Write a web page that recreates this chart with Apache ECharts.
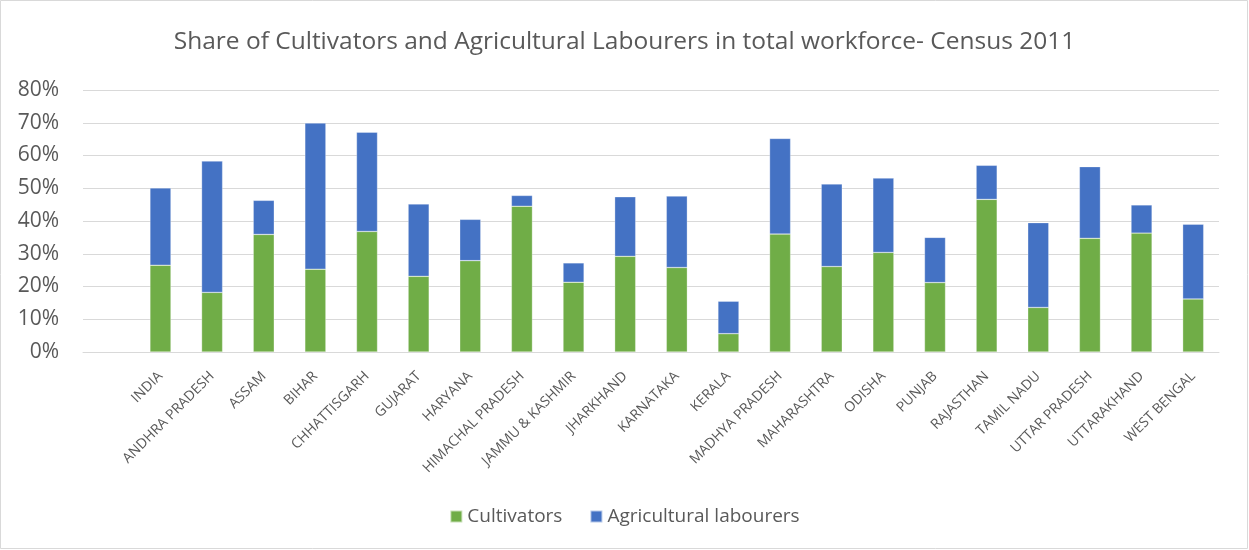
<!DOCTYPE html>
<html>
<head>
<meta charset="utf-8">
<script src="https://cdn.jsdelivr.net/npm/echarts@6/dist/echarts.min.js"></script>
<style>
  html, body { margin: 0; padding: 0; background: #fff; }
  #chart { width: 1249px; height: 550px; }
</style>
</head>
<body>
<div id="chart"></div>
<script>
// Census 2011: share of workforce (%) by state. The leading blank row keeps an empty slot before INDIA.
const states = ['', 'INDIA', 'ANDHRA PRADESH', 'ASSAM', 'BIHAR', 'CHHATTISGARH', 'GUJARAT', 'HARYANA',
  'HIMACHAL PRADESH', 'JAMMU & KASHMIR', 'JHARKHAND', 'KARNATAKA', 'KERALA', 'MADHYA PRADESH',
  'MAHARASHTRA', 'ODISHA', 'PUNJAB', 'RAJASTHAN', 'TAMIL NADU', 'UTTAR PRADESH', 'UTTARAKHAND', 'WEST BENGAL'];
const cultivators = [null, 26.5, 18.2, 35.9, 25.3, 36.8, 23.1, 27.9, 44.5, 21.3, 29.2, 25.8, 5.6, 36.0,
  26.1, 30.4, 21.2, 46.6, 13.6, 34.7, 36.3, 16.2];
const agriLabourers = [null, 23.6, 40.1, 10.4, 44.6, 30.3, 22.1, 12.6, 3.3, 5.9, 18.2, 21.8, 9.9, 29.2,
  25.2, 22.7, 13.8, 10.4, 25.9, 21.9, 8.6, 22.8];
const yTicks = { min: 0, max: 80, step: 10 };

const font = '"Open Sans", "Noto Sans", sans-serif';
const chart = echarts.init(document.getElementById('chart'), null, { renderer: 'canvas' });
chart.setOption({
  animation: false,
  backgroundColor: '#fff',
  title: {
    text: 'Share of Cultivators and Agricultural Labourers in total workforce- Census 2011',
    left: 'center',
    top: 25,
    textStyle: { fontFamily: font, fontSize: 24.5, fontWeight: 'normal', color: '#595959' }
  },
  legend: {
    left: 'center',
    top: 502,
    itemWidth: 12,
    itemHeight: 12,
    itemGap: 27,
    icon: 'rect',
    textStyle: { fontFamily: font, fontSize: 19, color: '#595959' },
    data: ['Cultivators', 'Agricultural labourers']
  },
  grid: { left: 83, right: 30, top: 90, bottom: 198 },
  xAxis: {
    type: 'category',
    data: states,
    axisLine: { lineStyle: { color: '#d9d9d9', width: 1 } },
    axisTick: { show: false },
    axisLabel: {
      interval: 0,
      rotate: 45,
      margin: 22,
      fontFamily: font,
      fontSize: 14,
      color: '#595959'
    }
  },
  yAxis: {
    type: 'value',
    min: yTicks.min,
    max: yTicks.max,
    interval: yTicks.step,
    axisLine: { show: false },
    axisTick: { show: false },
    splitLine: { lineStyle: { color: '#d9d9d9', width: 1 } },
    axisLabel: {
      formatter: '{value}%',
      margin: 24,
      fontFamily: font,
      fontSize: 21,
      color: '#595959'
    }
  },
  series: [
    {
      name: 'Cultivators',
      type: 'bar',
      stack: 'workforce',
      barWidth: 21,
      data: cultivators,
      itemStyle: { color: '#70AD47', borderColor: 'rgba(255,255,255,0.6)', borderWidth: 0.5 }
    },
    {
      name: 'Agricultural labourers',
      type: 'bar',
      stack: 'workforce',
      barWidth: 21,
      data: agriLabourers,
      itemStyle: { color: '#4472C4', borderColor: 'rgba(255,255,255,0.6)', borderWidth: 0.5 }
    }
  ],
  graphic: [{
    type: 'rect',
    shape: { x: 0.5, y: 0.5, width: 1247, height: 548 },
    style: { fill: 'none', stroke: '#d9d9d9', lineWidth: 1 },
    silent: true
  }]
});
</script>
</body>
</html>
